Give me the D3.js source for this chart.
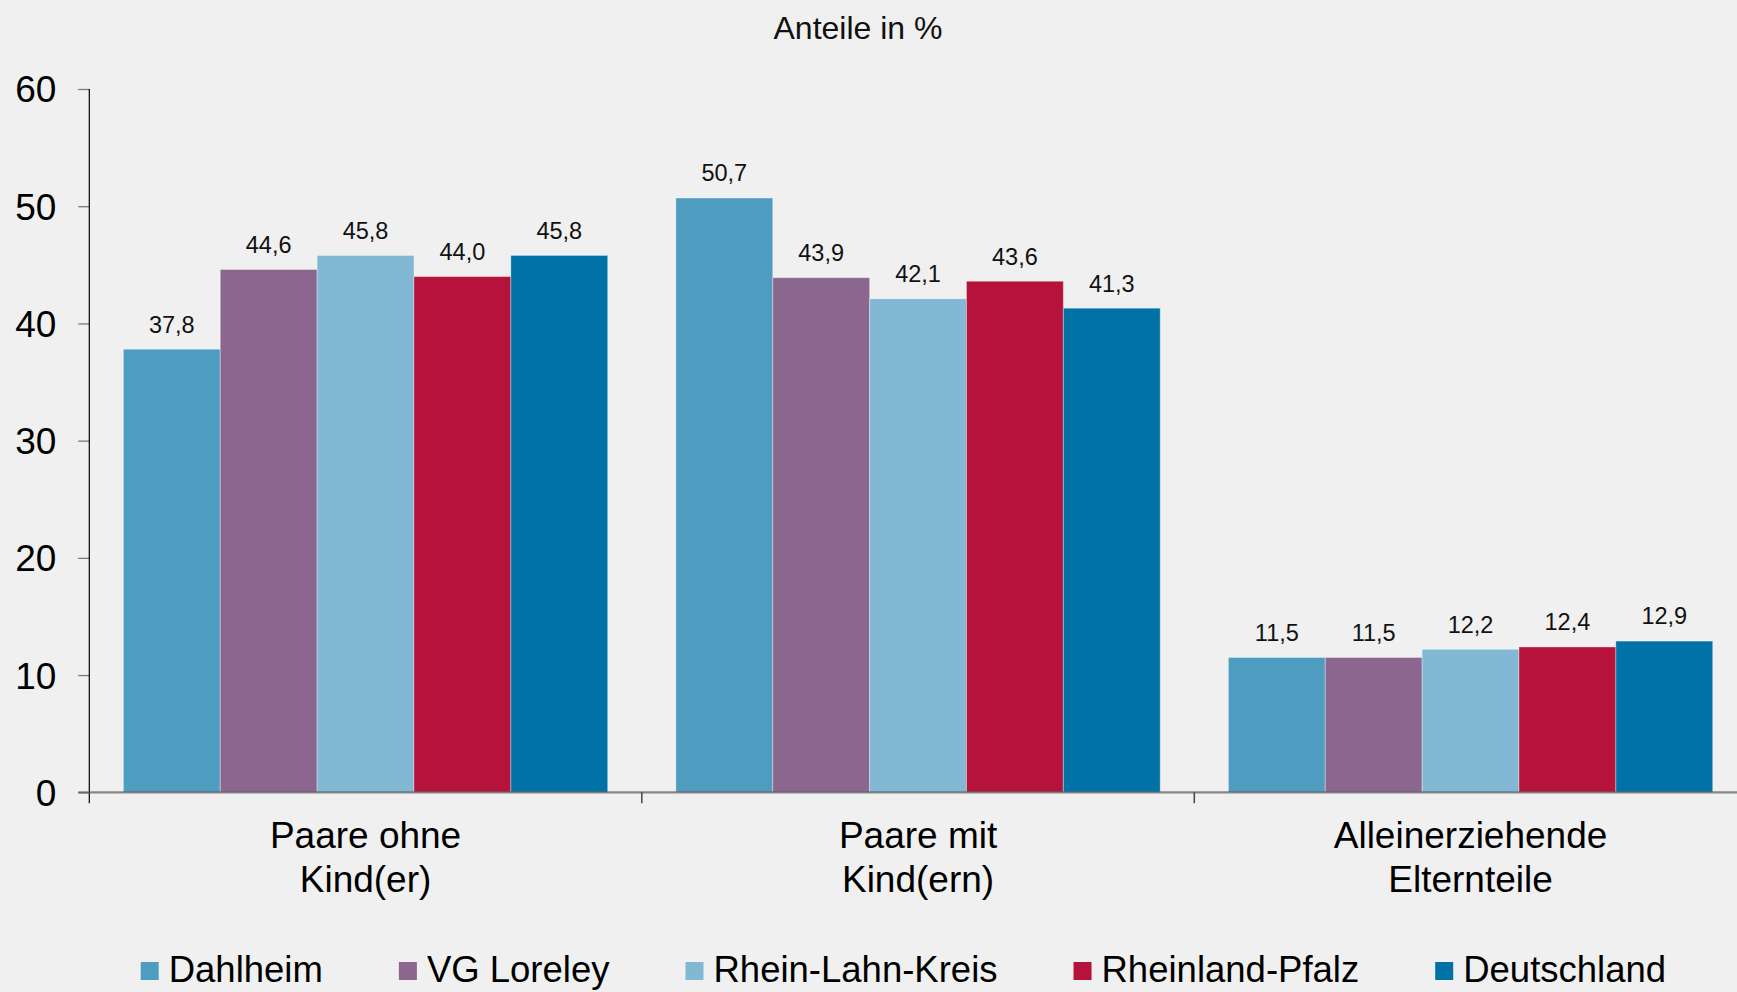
<!DOCTYPE html>
<html>
<head>
<meta charset="utf-8">
<script src="https://cdn.jsdelivr.net/npm/d3@7"></script>
<style>
  html, body { margin: 0; padding: 0; background: #EFF0EF; }
  svg { display: block; font-family: "Liberation Sans", Arial, sans-serif; }
</style>
</head>
<body>
<svg id="chart" width="1737" height="992"></svg>
<script>
// ---- data ----
const categories = ["Paare ohne Kind(er)", "Paare mit Kind(ern)", "Alleinerziehende Elternteile"];
const categoryLines = [["Paare ohne", "Kind(er)"], ["Paare mit", "Kind(ern)"], ["Alleinerziehende", "Elternteile"]];
const seriesNames = ["Dahlheim", "VG Loreley", "Rhein-Lahn-Kreis", "Rheinland-Pfalz", "Deutschland"];
const dahlheim = [37.8, 50.7, 11.5];
const vgLoreley = [44.6, 43.9, 11.5];
const rheinLahnKreis = [45.8, 42.1, 12.2];
const rheinlandPfalz = [44.0, 43.6, 12.4];
const deutschland = [45.8, 41.3, 12.9];
const yTicks = [0, 10, 20, 30, 40, 50, 60];
const title = "Anteile in %";

// ---- styles ----
const colors = ["#4E9DC0", "#8B668E", "#82B8D4", "#B5133C", "#0072A5"];

const seriesValues = [dahlheim, vgLoreley, rheinLahnKreis, rheinlandPfalz, deutschland];
const rows = [];
categories.forEach((c, ci) => {
  seriesNames.forEach((s, si) => rows.push({ cat: c, ci, series: s, si, value: seriesValues[si][ci] }));
});

const svg = d3.select("#chart");
const plotLeft = 89.3, plotRight = 1746.8, plotTop = 89, plotBottom = 792.3;

const x0 = d3.scaleBand().domain(categories).range([plotLeft, plotRight]).paddingInner(0.1234).paddingOuter(0.0617);
const x1 = d3.scaleBand().domain(seriesNames).range([0, x0.bandwidth()]).padding(0);
const y = d3.scaleLinear().domain([0, 60]).range([plotBottom, plotTop]);
const fmt = v => d3.format(".1f")(v).replace(".", ",");

// title
svg.append("text").attr("x", 858).attr("y", 39).attr("text-anchor", "middle")
  .attr("font-size", 32).attr("fill", "#111").text(title);

// bars
svg.append("g").selectAll("rect").data(rows).join("rect")
  .attr("x", d => x0(d.cat) + x1(d.series))
  .attr("y", d => y(d.value))
  .attr("width", x1.bandwidth())
  .attr("height", d => y(0) - y(d.value))
  .attr("fill", d => colors[d.si])
  .attr("stroke", "rgba(255,255,255,0.35)")
  .attr("stroke-width", 1);

// value labels
svg.append("g").selectAll("text").data(rows).join("text")
  .attr("x", d => x0(d.cat) + x1(d.series) + x1.bandwidth() / 2)
  .attr("y", d => y(d.value) - 16.6)
  .attr("text-anchor", "middle")
  .attr("font-size", 23.5)
  .attr("fill", "#111")
  .text(d => fmt(d.value));

// y axis
const yAxis = d3.axisLeft(y).tickValues(yTicks).tickSize(11).tickPadding(22).tickFormat(d3.format("d"));
const gy = svg.append("g").attr("transform", `translate(${plotLeft},0)`).call(yAxis);
gy.select(".domain").remove();
gy.selectAll(".tick line").attr("stroke", "#777").attr("stroke-width", 1.3);
gy.selectAll(".tick text").attr("font-size", 37).attr("fill", "#000")
  .attr("font-family", "'Liberation Sans', Arial, sans-serif").attr("dy", "0.35em");
svg.append("line").attr("x1", plotLeft).attr("x2", plotLeft)
  .attr("y1", y(60)).attr("y2", plotBottom + 11)
  .attr("stroke", "#000").attr("stroke-width", 1.2);

// x axis baseline
svg.append("line").attr("x1", plotLeft - 11).attr("x2", plotRight)
  .attr("y1", y(0)).attr("y2", y(0))
  .attr("stroke", "#5a5a5a").attr("stroke-opacity", 0.7).attr("stroke-width", 2.2);

// category separator ticks
const step = x0.step();
const seps = categories.slice(1).map(c => x0(c) - step * x0.paddingInner() / 2);
svg.append("g").selectAll("line").data(seps).join("line")
  .attr("x1", d => d).attr("x2", d => d)
  .attr("y1", y(0)).attr("y2", y(0) + 11)
  .attr("stroke", "#444").attr("stroke-width", 1.5);

// category labels
const gc = svg.append("g");
categories.forEach((c, ci) => {
  const t = gc.append("text").attr("text-anchor", "middle").attr("font-size", 37).attr("fill", "#000")
    .attr("x", x0(c) + x0.bandwidth() / 2).attr("y", 848);
  categoryLines[ci].forEach((line, li) => {
    t.append("tspan").attr("x", x0(c) + x0.bandwidth() / 2).attr("dy", li === 0 ? 0 : 44).text(line);
  });
});

// legend
const legend = svg.append("g");
let lx = 140.7;
seriesNames.forEach((s, si) => {
  legend.append("rect").attr("x", lx).attr("y", 962).attr("width", 18).attr("height", 18).attr("fill", colors[si]);
  const t = legend.append("text").attr("x", lx + 28).attr("y", 982).attr("font-size", 36.5).attr("fill", "#000").text(s);
  lx = lx + 28 + t.node().getComputedTextLength() + 76;
});
</script>
</body>
</html>
